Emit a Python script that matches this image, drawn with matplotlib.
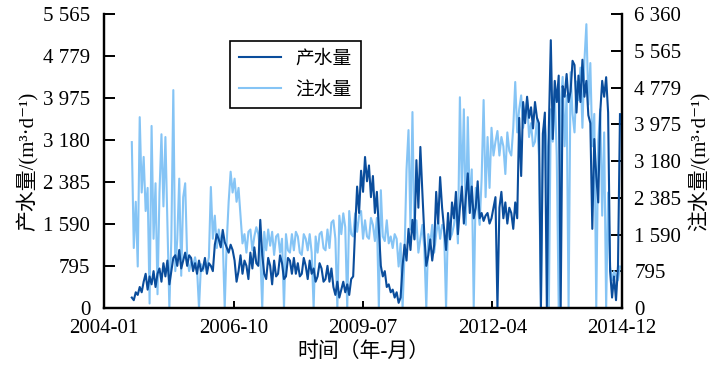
import numpy as np
import pandas as pd
import matplotlib
matplotlib.use('Agg')
import matplotlib.pyplot as plt
import matplotlib.dates as mdates

plt.rcParams['font.family'] = ['Liberation Serif', 'Noto Sans CJK SC', 'DejaVu Serif']
plt.rcParams['font.size'] = 15

# injection (right axis), two readings per month, Aug 2004 .. Nov 2014
injection = [
    # 2004 Aug-Dec
    3590, 1300, 2300, 900, 4130, 2500, 3270, 2100, 2600, 100,
    # 2005
    3940, 1500, 2700, 300, 2500, 3760, 2200, 3700, 1800, 0, 1500, 4715,
    800, 1500, 2800, 700, 2400, 2700, 1100, 800, 1000, 900, 1100, 850,
    # 2006
    0, 950, 800, 1000, 900, 1100, 2620, 1500, 2000, 1300, 1700, 1400,
    1500, 0, 1400, 2300, 2950, 2500, 2800, 2300, 2600, 2000, 1400, 1600,
    # 2007
    1200, 1650, 1700, 1250, 1550, 1750, 1600, 1200, 0, 1650, 1250, 1700,
    1350, 1650, 1150, 1550, 1600, 1200, 1500, 0, 1600, 1250, 1200, 1600,
    # 2008
    1250, 1650, 1550, 1200, 1150, 1600, 1500, 1250, 1600, 1200, 0, 1550,
    1200, 1600, 1650, 1300, 1250, 1700, 1300, 1850, 1900, 1500, 0, 2000,
    # 2009
    1600, 2050, 1750, 0, 2100, 1600, 1550, 2050, 1650, 2000, 2100, 1500,
    1900, 1550, 1500, 1950, 1800, 1450, 1950, 0, 2550, 1550, 1450, 1900,
    # 2010
    1400, 1550, 1300, 1600, 1500, 900, 1400, 0, 1200, 3000, 3850, 1700,
    4240, 1500, 1900, 1200, 1500, 1800, 1300, 0, 1600, 1400, 1800, 1200,
    # 2011
    1600, 1900, 1500, 1800, 1700, 0, 1900, 1500, 1600, 1800, 2200, 1400,
    4560, 2500, 4300, 1800, 4130, 2200, 3000, 0, 2600, 2200, 1800, 2800,
    # 2012
    4500, 2400, 3700, 2600, 3900, 3300, 3600, 3830, 3300, 3700, 3500, 2900,
    3800, 3400, 3300, 3900, 4890, 3800, 4300, 4600, 3900, 4200, 4500, 3700,
    # 2013
    4000, 3500, 3600, 4100, 3300, 0, 3800, 4000, 3500, 0, 4300, 3600,
    4700, 3300, 0, 4400, 5000, 3500, 4600, 0, 5100, 4200, 3800, 4900,
    # 2014 Jan-Nov
    4500, 5200, 3900, 5340, 6140, 4400, 5300, 3500, 4200, 0, 3600, 4300,
    2000, 3800, 0, 2500, 900, 600, 800, 700, 600, 900,
]

# production (left axis), same sampling
production = [
    # 2004 Aug-Dec
    200, 150, 300, 250, 400, 300, 500, 650, 350, 600,
    # 2005
    450, 700, 400, 650, 750, 500, 850, 600, 900, 450, 700, 950,
    1000, 800, 1100, 750, 900, 1050, 800, 1000, 950, 700, 850, 650,
    # 2006
    900, 700, 750, 950, 650, 850, 800, 700, 1200, 1400, 1300, 1150,
    1480, 1250, 1150, 1050, 1200, 1100, 900, 500, 700, 1000, 650, 900,
    # 2007
    800, 550, 1050, 750, 1150, 850, 800, 1670, 1000, 650, 550, 950,
    800, 450, 900, 600, 650, 1000, 850, 550, 600, 950, 900, 650,
    # 2008
    950, 650, 850, 600, 650, 950, 800, 550, 900, 650, 750, 500,
    600, 850, 750, 500, 550, 800, 500, 750, 400, 250, 500, 200,
    # 2009
    350, 500, 300, 450, 250, 550, 600, 1500, 2300, 1800, 2600, 2200,
    2860, 2400, 2700, 2100, 2500, 1800, 2200, 1500, 800, 600, 700, 400,
    # 2010
    450, 300, 350, 200, 300, 100, 200, 800, 1200, 900, 1500, 1100,
    1670, 1300, 2800, 1900, 3050, 2200, 1400, 800, 1000, 1300, 900, 1200,
    # 2011
    2200, 1600, 2480, 1900, 1500, 1100, 1800, 1300, 2000, 1700, 2200, 1400,
    1900, 2300, 1600, 2100, 2550, 1800, 2300, 1700, 1900, 2400, 1700, 1800,
    # 2012
    1650, 1750, 1800, 1600, 1700, 1900, 2100, 0, 1900, 2200, 1700, 2000,
    1600, 1900, 1800, 1500, 2000, 1700, 3600, 2500, 3900, 3500, 4000, 3600,
    # 2013
    3800, 3400, 3900, 3600, 3500, 0, 3300, 3700, 0, 3400, 5070, 3200,
    4300, 3900, 4400, 0, 4200, 4000, 4430, 3900, 4100, 4680, 4600, 3700,
    # 2014 Jan-Nov
    4400, 3900, 4700, 4000, 4300, 3650, 3500, 1500, 3200, 2500, 2000, 3700,
    4300, 4000, 4370, 3700, 700, 200, 600, 150, 800, 3670,
]

left_ticks = [0, 795, 1590, 2385, 3180, 3975, 4770, 5565]
left_labels = ['0', '795', '1 590', '2 385', '3 180', '3 975', '4 779', '5 565']
right_ticks = [0, 795, 1590, 2385, 3180, 3975, 4770, 5565, 6360]
right_labels = ['0', '795', '1 590', '2 385', '3 180', '3 975', '4 779', '5 565', '6 360']
x_labels = ['2004-01', '2006-10', '2009-07', '2012-04', '2014-12']

dark = '#0a4d9c'
light = '#85c4f5'

t_inj = pd.date_range('2004-08-03', '2014-12-18', periods=len(injection))
t_prod = pd.date_range('2004-08-03', '2014-12-18', periods=len(production))

fig = plt.figure(figsize=(7.23, 3.79), dpi=100)
ax = fig.add_axes([0.144, 0.187, 0.716, 0.776])
ax2 = ax.twinx()

l2, = ax2.plot(t_inj, injection, color=light, lw=1.5)
l1, = ax.plot(t_prod, production, color=dark, lw=1.5)
ax.set_zorder(ax2.get_zorder() + 1)
ax.patch.set_visible(False)

x0 = mdates.date2num(pd.Timestamp('2004-01-01'))
x1 = mdates.date2num(pd.Timestamp('2015-01-01'))
ax.set_xlim(x0, x1)
ax.set_xticks(np.linspace(x0, x1, 5))
ax.set_xticklabels(x_labels)

ax.set_ylim(0, 5565)
ax.set_yticks(left_ticks)
ax.set_yticklabels(left_labels)
ax2.set_ylim(0, 6360)
ax2.set_yticks(right_ticks)
ax2.set_yticklabels(right_labels)

for a in (ax, ax2):
    a.spines['top'].set_visible(False)
    for s in ('left', 'right', 'bottom'):
        a.spines[s].set_linewidth(1.6)
ax.tick_params(axis='y', direction='in', length=8, width=1.4, pad=10)
ax.tick_params(axis='x', direction='in', length=5, width=1.4, pad=8)
ax2.tick_params(axis='y', direction='in', length=8, width=1.4, pad=9)

ax.set_ylabel('产水量/(m³·d⁻¹)', labelpad=3)
ax2.set_ylabel('注水量/(m³·d⁻¹)', labelpad=5)
ax.set_xlabel('时间（年-月）', labelpad=3)

leg = ax.legend([l1, l2], ['产水量', '注水量'], loc='upper left',
                bbox_to_anchor=(0.225, 0.94), fancybox=False, framealpha=1,
                edgecolor='black', handlelength=2.2, borderpad=0.5,
                labelspacing=0.7, fontsize=13.5)
leg.get_frame().set_linewidth(1.2)

fig.savefig('out.png', dpi=100)
